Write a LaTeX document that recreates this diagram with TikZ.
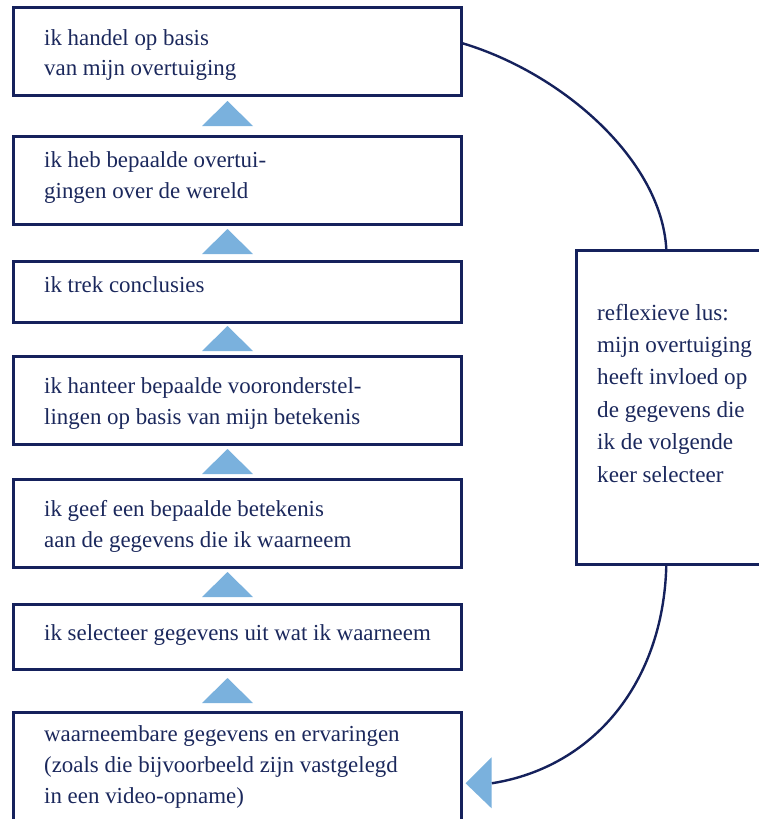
\documentclass[tikz,border=0pt]{standalone}
\usepackage{fontspec}
\setmainfont{Liberation Serif}
\definecolor{navy}{HTML}{15215C}
\definecolor{txt}{HTML}{1B285C}
\definecolor{tri}{HTML}{7AB1DD}
\newcommand{\lines}[1]{\begin{tabular}[t]{@{}l@{}}#1\end{tabular}}
\begin{document}
\begin{tikzpicture}[x=1pt,y=-1pt,
  box/.style={draw=navy, line width=2.6pt, rectangle, inner sep=0pt, anchor=north west, minimum width=448pt},
  lbl/.style={anchor=base west, inner sep=0pt, text=txt, font=\fontsize{22.9}{31}\selectfont},
  rlbl/.style={anchor=base west, inner sep=0pt, text=txt, font=\fontsize{23.1}{32.4}\selectfont},
  uptri/.style={fill=tri, draw=none},
  loop/.style={draw=navy, line width=2.4pt}]
\useasboundingbox (0,0) rectangle (758,819);
% boxes
\node[box, minimum height=88pt] (b1) at (12,6) {};
\node[box, minimum height=88pt] (b2) at (12,135) {};
\node[box, minimum height=61pt] (b3) at (12,260) {};
\node[box, minimum height=88pt] (b4) at (12,355) {};
\node[box, minimum height=88pt] (b5) at (12,478) {};
\node[box, minimum height=65pt] (b6) at (12,603) {};
\node[box, minimum height=130pt] (b7) at (12,711) {};
\node[box, minimum width=200pt, minimum height=314pt] (r) at (575,249) {};
% texts
\node[lbl] (t1) at (44,45) {\lines{ik handel op basis\\ van mijn overtuiging}};
\node[lbl] (t2) at (44,167) {\lines{ik heb bepaalde overtui-\\ gingen over de wereld}};
\node[lbl] (t3) at (44,292) {ik trek conclusies};
\node[lbl] (t4) at (44,393) {\lines{ik hanteer bepaalde vooronderstel-\\ lingen op basis van mijn betekenis}};
\node[lbl] (t5) at (44,516) {\lines{ik geef een bepaalde betekenis\\ aan de gegevens die ik waarneem}};
\node[lbl] (t6) at (44,640) {ik selecteer gegevens uit wat ik waarneem};
\node[lbl] (t7) at (44,741) {\lines{waarneembare gegevens en ervaringen\\ (zoals die bijvoorbeeld zijn vastgelegd\\ in een video-opname)}};
\node[rlbl] (tr) at (597,320) {\lines{reflexieve lus:\\ mijn overtuiging\\ heeft invloed op\\ de gegevens die\\ ik de volgende\\ keer selecteer}};
% upward triangles
\foreach \b in {126,254,351,474,597,703}{
  \fill[uptri] (202,\b) -- (227.5,\b-25) -- (253,\b) -- cycle;
}
% loop connectors
\coordinate (tip) at ([xshift=3pt,yshift=-6pt]b7.east);
\draw[loop] ([yshift=8pt]b1.east) .. controls +(100,30) and +(-5,-89) .. ([xshift=-10pt]r.north);
\draw[loop] ([xshift=-10pt]r.south) .. controls +(-3,117) and +(102,-16) .. ([xshift=26pt]tip);
\fill[uptri] (tip) -- ([xshift=26pt,yshift=-25pt]tip) -- ([xshift=26pt,yshift=26pt]tip) -- cycle;
\end{tikzpicture}
\end{document}
